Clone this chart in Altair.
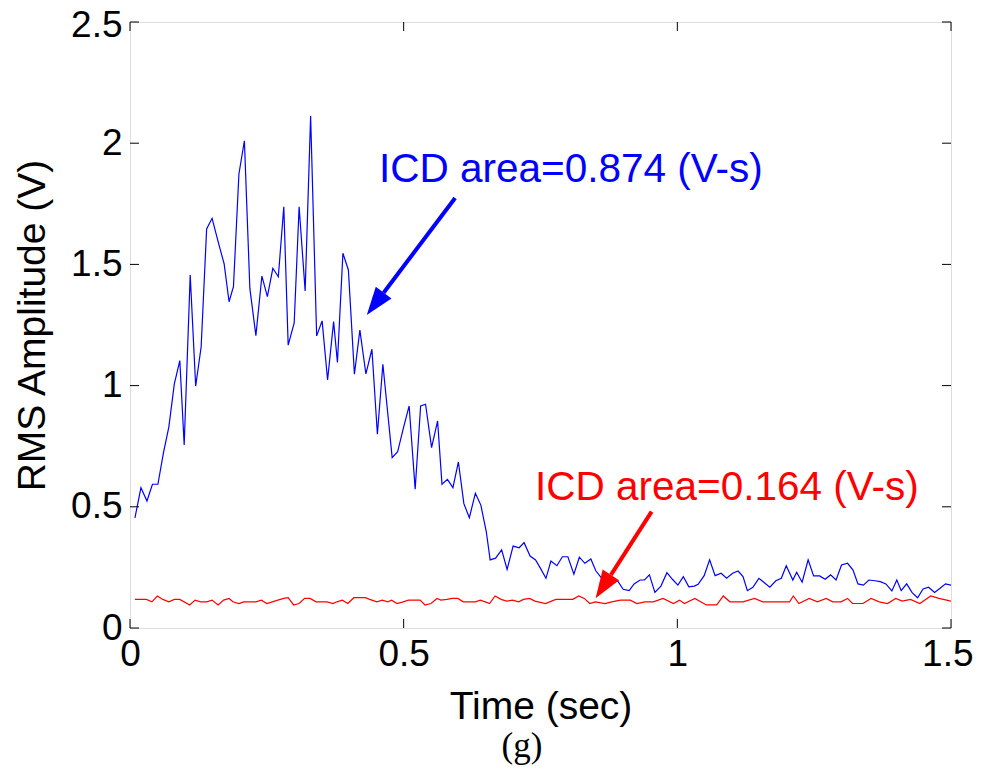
import altair as alt
import pandas as pd

# ---- data ----
blue_t = [0.009, 0.020, 0.031, 0.041, 0.051, 0.061, 0.071, 0.081, 0.091, 0.099,
          0.110, 0.120, 0.130, 0.140, 0.150, 0.161, 0.172, 0.181, 0.189, 0.199,
          0.209, 0.219, 0.230, 0.241, 0.251, 0.261, 0.271, 0.281, 0.289, 0.300,
          0.309, 0.320, 0.330, 0.341, 0.351, 0.361, 0.372, 0.379, 0.389, 0.399,
          0.410, 0.420, 0.431, 0.442, 0.452, 0.462, 0.479, 0.489, 0.499, 0.510,
          0.521, 0.531, 0.540, 0.551, 0.562, 0.570, 0.580, 0.590, 0.600, 0.610,
          0.620, 0.631, 0.641, 0.651, 0.658, 0.668, 0.679, 0.689, 0.700, 0.711,
          0.720, 0.731, 0.741, 0.750, 0.760, 0.769, 0.780, 0.790, 0.800, 0.811,
          0.821, 0.831, 0.842, 0.851, 0.862, 0.872, 0.882, 0.891, 0.901, 0.912,
          0.921, 0.932, 0.940, 0.949, 0.959, 0.970, 0.981, 0.991, 1.001, 1.011,
          1.021, 1.031, 1.038, 1.049, 1.059, 1.069, 1.080, 1.090, 1.101, 1.111,
          1.120, 1.128, 1.138, 1.149, 1.159, 1.169, 1.180, 1.190, 1.199, 1.211,
          1.218, 1.228, 1.239, 1.249, 1.260, 1.270, 1.280, 1.290, 1.300, 1.311,
          1.321, 1.330, 1.340, 1.350, 1.361, 1.371, 1.381, 1.392, 1.401, 1.409,
          1.419, 1.429, 1.439, 1.449, 1.459, 1.470, 1.480, 1.490, 1.500]
blue_v = [0.454, 0.579, 0.524, 0.593, 0.593, 0.721, 0.830, 1.007, 1.103, 0.755,
          1.456, 0.998, 1.160, 1.646, 1.690, 1.594, 1.502, 1.346, 1.408, 1.873,
          2.010, 1.401, 1.206, 1.452, 1.367, 1.484, 1.449, 1.738, 1.167, 1.259,
          1.738, 1.390, 2.112, 1.205, 1.267, 1.023, 1.264, 1.096, 1.546, 1.477,
          1.047, 1.229, 1.048, 1.150, 0.799, 1.088, 0.703, 0.727, 0.820, 0.916,
          0.573, 0.916, 0.923, 0.744, 0.854, 0.593, 0.613, 0.579, 0.685, 0.513,
          0.455, 0.556, 0.507, 0.397, 0.281, 0.288, 0.322, 0.242, 0.338, 0.331,
          0.352, 0.297, 0.281, 0.246, 0.205, 0.276, 0.257, 0.294, 0.294, 0.222,
          0.292, 0.267, 0.285, 0.236, 0.205, 0.210, 0.191, 0.194, 0.160, 0.154,
          0.182, 0.198, 0.198, 0.219, 0.147, 0.173, 0.228, 0.201, 0.177, 0.212,
          0.170, 0.173, 0.180, 0.216, 0.281, 0.216, 0.226, 0.205, 0.226, 0.235,
          0.212, 0.154, 0.168, 0.205, 0.187, 0.168, 0.195, 0.205, 0.257, 0.198,
          0.230, 0.189, 0.281, 0.215, 0.215, 0.201, 0.219, 0.198, 0.260, 0.267,
          0.239, 0.182, 0.177, 0.198, 0.195, 0.191, 0.182, 0.153, 0.198, 0.154,
          0.182, 0.146, 0.125, 0.161, 0.168, 0.147, 0.164, 0.182, 0.177]

red_t = [0.009, 0.030, 0.040, 0.050, 0.060, 0.071, 0.081, 0.091, 0.109, 0.119,
         0.129, 0.140, 0.150, 0.161, 0.171, 0.181, 0.188, 0.199, 0.208, 0.219,
         0.230, 0.240, 0.250, 0.260, 0.270, 0.281, 0.289, 0.299, 0.309, 0.319,
         0.329, 0.340, 0.351, 0.360, 0.371, 0.378, 0.388, 0.398, 0.409, 0.419,
         0.430, 0.438, 0.451, 0.461, 0.471, 0.478, 0.488, 0.499, 0.509, 0.520,
         0.530, 0.539, 0.550, 0.561, 0.568, 0.579, 0.589, 0.599, 0.609, 0.620,
         0.631, 0.640, 0.649, 0.657, 0.667, 0.678, 0.688, 0.699, 0.710, 0.719,
         0.730, 0.740, 0.759, 0.778, 0.809, 0.820, 0.830, 0.840, 0.850, 0.868,
         0.880, 0.896, 0.914, 0.926, 0.941, 0.956, 0.974, 0.993, 1.004, 1.013,
         1.032, 1.053, 1.072, 1.084, 1.096, 1.120, 1.141, 1.156, 1.180, 1.205,
         1.212, 1.222, 1.241, 1.256, 1.272, 1.284, 1.299, 1.311, 1.320, 1.339,
         1.354, 1.369, 1.384, 1.399, 1.411, 1.426, 1.443, 1.463, 1.478, 1.500]
red_v = [0.118, 0.118, 0.108, 0.132, 0.118, 0.108, 0.118, 0.118, 0.095, 0.115,
         0.108, 0.108, 0.115, 0.095, 0.115, 0.122, 0.108, 0.101, 0.108, 0.108,
         0.108, 0.115, 0.101, 0.108, 0.115, 0.122, 0.125, 0.095, 0.101, 0.122,
         0.122, 0.108, 0.108, 0.108, 0.101, 0.108, 0.115, 0.101, 0.125, 0.125,
         0.125, 0.118, 0.108, 0.115, 0.108, 0.115, 0.101, 0.108, 0.115, 0.115,
         0.115, 0.095, 0.101, 0.122, 0.115, 0.118, 0.122, 0.122, 0.108, 0.108,
         0.108, 0.115, 0.108, 0.101, 0.132, 0.118, 0.111, 0.115, 0.108, 0.118,
         0.122, 0.111, 0.101, 0.118, 0.118, 0.132, 0.122, 0.101, 0.108, 0.101,
         0.108, 0.115, 0.115, 0.101, 0.108, 0.108, 0.122, 0.101, 0.115, 0.101,
         0.122, 0.095, 0.095, 0.132, 0.108, 0.108, 0.122, 0.108, 0.108, 0.108,
         0.132, 0.101, 0.122, 0.108, 0.122, 0.108, 0.108, 0.122, 0.101, 0.101,
         0.122, 0.108, 0.101, 0.122, 0.111, 0.118, 0.101, 0.132, 0.122, 0.111]

x_ticks = [0, 0.5, 1.0, 1.5]
y_ticks = [0, 0.5, 1.0, 1.5, 2.0, 2.5]

labels = ["ICD area=0.874 (V-s)", "ICD area=0.164 (V-s)"]
label_t = [0.455, 0.740]
label_v = [1.840, 0.528]
label_colors = ["#0000ff", "#ff0000"]

# arrows: tail (t, v) -> shaft end (t2, v2); head centre (ht, hv) and angle
arrow_t = [0.594, 0.953]
arrow_v = [1.774, 0.480]
arrow_t2 = [0.4634, 0.8787]
arrow_v2 = [1.383, 0.2195]
head_t = [0.448, 0.8646]
head_v = [1.3375, 0.171]
head_angle = [217, 213]

W, H = 821, 606
FONT = "Liberation Sans"

xs = alt.Scale(domain=[0, 1.5], nice=False, zero=False)
ys = alt.Scale(domain=[0, 2.5], nice=False, zero=False)

x_axis = alt.Axis(values=x_ticks, title="Time (sec)", format="~g", grid=False,
                  ticks=False, domain=False, labelFontSize=37, labelFont=FONT,
                  labelColor="black", labelPadding=8, labelFlush=False,
                  labelOverlap=False,
                  labelAlign={"condition": {"test": "datum.value == 1.5", "value": "right"},
                              "value": "center"},
                  labelOffset={"condition": {"test": "datum.value == 1.5", "value": 22},
                               "value": 0},
                  titleFont=FONT, titleFontSize=39,
                  titleFontWeight="normal", titleColor="black",
                  titleY=90, titleBaseline="alphabetic")
y_axis = alt.Axis(values=y_ticks, title="RMS Amplitude (V)", format="~g", grid=False,
                  ticks=False, domain=False, labelFontSize=37, labelFont=FONT,
                  labelColor="black", labelPadding=8, labelFlush=False,
                  labelOverlap=False,
                  labelOffset={"condition": {"test": "datum.value == 2.5", "value": 3},
                               "value": 0},
                  titleFont=FONT, titleFontSize=39,
                  titleFontWeight="normal", titleColor="black",
                  titleX=-98, titleY=H / 2, titleBaseline="middle")

X = alt.X("t:Q", scale=xs, axis=x_axis)
Y = alt.Y("v:Q", scale=ys, axis=y_axis)

df = pd.concat([
    pd.DataFrame({"t": blue_t, "v": blue_v, "s": "blue"}),
    pd.DataFrame({"t": red_t, "v": red_v, "s": "red"}),
])

lines = alt.Chart(df).mark_line(strokeWidth=1.2, clip=True).encode(
    x=X, y=Y,
    color=alt.Color("s:N", scale=alt.Scale(domain=["blue", "red"],
                                           range=["#0000ff", "#ff0000"]), legend=None),
)

xt = pd.DataFrame({"t": x_ticks})
yt = pd.DataFrame({"v": y_ticks})
tick_b = alt.Chart(xt).mark_rule(color="black", strokeWidth=1).encode(
    x=X, y=alt.value(H), y2=alt.value(H - 9))
tick_t = alt.Chart(xt).mark_rule(color="black", strokeWidth=1).encode(
    x=X, y=alt.value(0), y2=alt.value(9))
tick_l = alt.Chart(yt).mark_rule(color="black", strokeWidth=1).encode(
    y=Y, x=alt.value(0), x2=alt.value(9))
tick_r = alt.Chart(yt).mark_rule(color="black", strokeWidth=1).encode(
    y=Y, x=alt.value(W), x2=alt.value(W - 9))

layers = [lines, tick_b, tick_t, tick_l, tick_r]

for i in range(2):
    col = label_colors[i]
    ad = pd.DataFrame({"t": [arrow_t[i]], "v": [arrow_v[i]],
                       "t2": [arrow_t2[i]], "v2": [arrow_v2[i]]})
    layers.append(alt.Chart(ad).mark_rule(color=col, strokeWidth=4).encode(
        x=X, y=Y, x2="t2:Q", y2="v2:Q"))
    hd = pd.DataFrame({"t": [head_t[i]], "v": [head_v[i]]})
    layers.append(alt.Chart(hd).mark_point(
        shape="M0,-1L0.7,1L-0.7,1Z", size=784, filled=True, opacity=1,
        color=col, strokeWidth=0, angle=head_angle[i]).encode(x=X, y=Y))
    td = pd.DataFrame({"t": [label_t[i]], "v": [label_v[i]], "lab": [labels[i]]})
    layers.append(alt.Chart(td).mark_text(
        align="left", baseline="alphabetic", font=FONT, fontSize=40.5,
        color=col).encode(x=X, y=Y, text="lab:N"))

gd = pd.DataFrame({"lab": ["(g)"]})
layers.append(alt.Chart(gd).mark_text(
    align="center", baseline="alphabetic", font="Liberation Serif", fontSize=35,
    color="black").encode(x=alt.value(392), y=alt.value(735), text="lab:N"))

chart = alt.layer(*layers).properties(
    width=W, height=H,
    autosize=alt.AutoSizeParams(type="none"),
    padding={"left": 122, "top": 14, "right": 23, "bottom": 138},
).configure_view(stroke="black", strokeWidth=1.6).configure(background="white")

chart.save("out.html", embed_options={"renderer": "svg", "actions": False})
